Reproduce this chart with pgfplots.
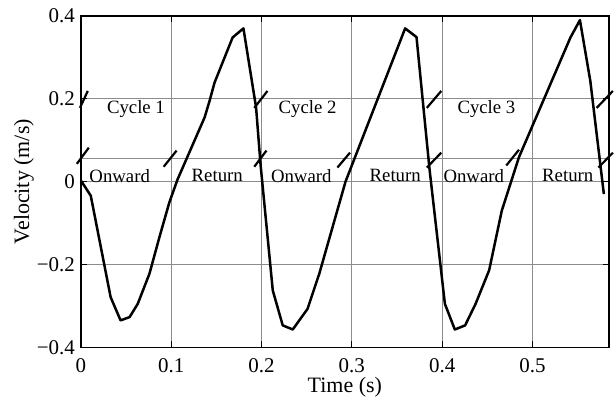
\documentclass[border=0pt]{standalone}
\usepackage{fontspec}
\setmainfont{Liberation Serif}
\usepackage{pgfplots}
\usepackage{pgfplotstable}
\pgfplotsset{compat=1.18}
\pgfplotstableread{
t v
0.000 0.003
0.011 -0.034
0.033 -0.279
0.044 -0.335
0.054 -0.327
0.063 -0.295
0.076 -0.222
0.087 -0.134
0.098 -0.050
0.107 0.005
0.122 0.080
0.137 0.155
0.1425 0.195
0.148 0.239
0.168 0.348
0.180 0.370
0.194 0.179
0.199 0.040
0.2125 -0.263
0.2235 -0.347
0.2346 -0.357
0.251 -0.307
0.264 -0.222
0.293 0.000
0.359 0.370
0.3716 0.349
0.386 0.030
0.403 -0.295
0.414 -0.357
0.4254 -0.347
0.437 -0.295
0.452 -0.214
0.466 -0.070
0.485 0.059
0.542 0.348
0.5525 0.390
0.564 0.243
0.579 -0.030
}\velocity
\begin{document}
\begin{tikzpicture}
\begin{axis}[
  scale only axis, width=264.5pt, height=166pt,
  xmin=0, xmax=0.5845, ymin=-0.4, ymax=0.4,
  xtick={0,0.1,0.2,0.3,0.4,0.5}, xticklabels={0,0.1,0.2,0.3,0.4,0.5},
  ytick={-0.4,-0.2,0,0.2,0.4}, yticklabels={−0.4,−0.2,0,0.2,0.4},
  grid=major, major grid style={black!45, line width=0.5pt},
  axis line style={line width=0.8pt},
  tick align=inside, major tick length=3pt,
  tick style={black, line width=0.6pt},
  xlabel={Time (s)}, ylabel={Velocity (m/s)},
  tick label style={font=\fontsize{10.5}{12}\selectfont},
  yticklabel style={xshift=0.5pt},
  xticklabel style={yshift=-2pt},
  label style={font=\fontsize{11}{13}\selectfont},
  xlabel style={at={(rel axis cs:0.5,-0.1205)}, anchor=center},
  ylabel style={at={(rel axis cs:-0.108,0.5)}, anchor=center},
  clip=false,
]
\path (rel axis cs:-0.1531,-0.1596) rectangle (rel axis cs:1.0076,1.0482);
\addplot[black!45, line width=0.5pt, forget plot] coordinates {(0,0.055) (0.5845,0.055)};
\addplot[black, line width=1.25pt, line join=round] table[x=t,y=v] {\velocity};
% boundary slashes
\addplot[black, line width=1.1pt] coordinates {(-0.001,0.178) (0.0077,0.219)};
\addplot[black, line width=1.1pt] coordinates {(-0.0044,0.043) (0.0088,0.082)};
\addplot[black, line width=1.1pt] coordinates {(0.0917,0.036) (0.106,0.075)};
\addplot[black, line width=1.1pt] coordinates {(0.192,0.178) (0.2066,0.219)};
\addplot[black, line width=1.1pt] coordinates {(0.192,0.036) (0.2055,0.075)};
\addplot[black, line width=1.1pt] coordinates {(0.284,0.034) (0.298,0.070)};
\addplot[black, line width=1.1pt] coordinates {(0.383,0.178) (0.399,0.219)};
\addplot[black, line width=1.1pt] coordinates {(0.383,0.034) (0.399,0.070)};
\addplot[black, line width=1.1pt] coordinates {(0.471,0.039) (0.485,0.077)};
\addplot[black, line width=1.1pt] coordinates {(0.571,0.178) (0.589,0.219)};
\addplot[black, line width=1.1pt] coordinates {(0.573,0.034) (0.589,0.070)};
\node[font=\fontsize{9.4}{11}\selectfont] at (axis cs:0.061,0.176) {Cycle 1};
\node[font=\fontsize{9.4}{11}\selectfont] at (axis cs:0.251,0.176) {Cycle 2};
\node[font=\fontsize{9.4}{11}\selectfont] at (axis cs:0.449,0.176) {Cycle 3};
\node[font=\fontsize{9.4}{11}\selectfont] at (axis cs:0.043,0.0145) {Onward};
\node[font=\fontsize{9.4}{11}\selectfont] at (axis cs:0.151,0.0145) {Return};
\node[font=\fontsize{9.4}{11}\selectfont] at (axis cs:0.244,0.0145) {Onward};
\node[font=\fontsize{9.4}{11}\selectfont] at (axis cs:0.348,0.0145) {Return};
\node[font=\fontsize{9.4}{11}\selectfont] at (axis cs:0.435,0.0145) {Onward};
\node[font=\fontsize{9.4}{11}\selectfont] at (axis cs:0.539,0.0145) {Return};
\end{axis}
\end{tikzpicture}
\end{document}
